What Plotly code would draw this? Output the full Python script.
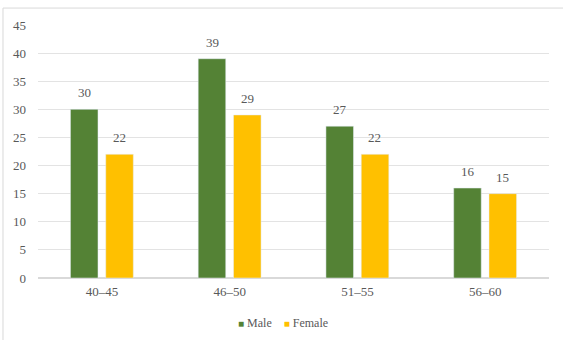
import plotly.graph_objects as go

categories = ["40–45", "46–50", "51–55", "56–60"]
male = [30, 39, 27, 16]
female = [22, 29, 22, 15]
y_ticks = [0, 5, 10, 15, 20, 25, 30, 35, 40, 45]

font_family = "Liberation Serif, Times New Roman, serif"
gray = "#595959"
green = "#548235"
yellow = "#FFC000"

fig = go.Figure()
fig.add_trace(go.Bar(name="Male", x=categories, y=male, marker_color=green))
fig.add_trace(go.Bar(name="Female", x=categories, y=female, marker_color=yellow))

annotations = []
for cat, v in zip(categories, male):
    annotations.append(dict(x=cat, y=v, text=str(v), showarrow=False, xshift=-17.6,
                            yanchor="bottom", yshift=7,
                            font=dict(family=font_family, size=13, color=gray)))
for cat, v in zip(categories, female):
    annotations.append(dict(x=cat, y=v, text=str(v), showarrow=False, xshift=17.6,
                            yanchor="bottom", yshift=7,
                            font=dict(family=font_family, size=13, color=gray)))
annotations.append(dict(
    xref="paper", yref="paper", x=0.48, y=-0.178, xanchor="center", yanchor="middle",
    showarrow=False,
    text=f'<span style="color:{green};font-size:10px">■</span> Male&nbsp;&nbsp;&nbsp;&nbsp;'
         f'<span style="color:{yellow};font-size:10px">■</span> Female',
    font=dict(family=font_family, size=12, color=gray)))

fig.update_layout(
    width=563, height=340,
    margin=dict(l=38, r=14, t=25, b=62, autoexpand=False),
    paper_bgcolor="white", plot_bgcolor="white",
    barmode="group", bargap=0.447, bargroupgap=0.22,
    font=dict(family=font_family, size=13, color=gray),
    showlegend=False,
    annotations=annotations,
    shapes=[dict(type="rect", xref="paper", yref="paper", x0=-0.0685, x1=1.1,
                 y0=-0.4, y1=1.067, line=dict(color="#d9d9d9", width=1), layer="below")],
)
fig.update_xaxes(showgrid=False, showline=False, ticks="", tickfont=dict(size=13, color=gray),
                 ticklabelstandoff=4)
fig.update_yaxes(range=[0, 45], tickvals=y_ticks, showgrid=True, gridcolor="#e3e3e3",
                 zeroline=True, zerolinecolor="#d9d9d9", ticks="", tickfont=dict(size=13, color=gray),
                 ticklabelstandoff=11)

fig.write_html("out.html")
